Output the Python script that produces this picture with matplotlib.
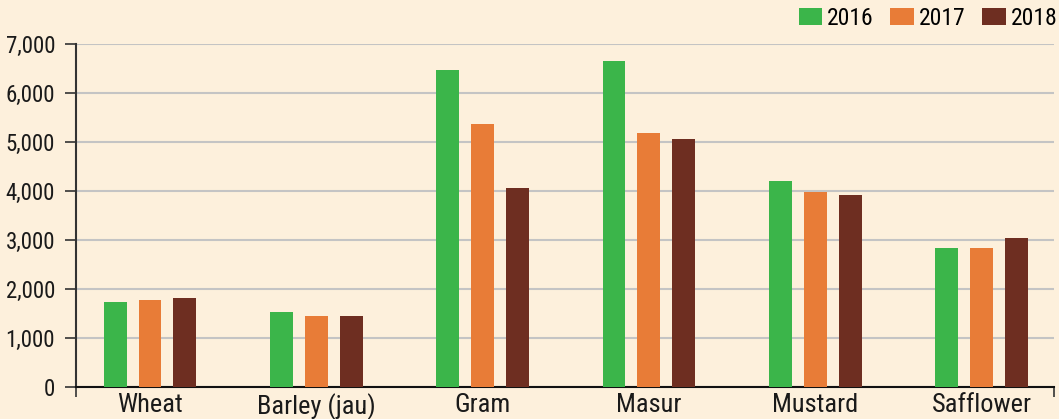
import matplotlib.pyplot as plt
import numpy as np
from matplotlib.ticker import FuncFormatter, FixedLocator

# 作物ごとの値 (2016, 2017, 2018)
crops = ['Wheat', 'Barley (jau)', 'Gram', 'Masur', 'Mustard', 'Safflower']
years = ['2016', '2017', '2018']
val_2016 = [1740, 1535, 6460, 6645, 4200, 2835]
val_2017 = [1780, 1450, 5365, 5180, 3980, 2835]
val_2018 = [1820, 1450, 4060, 5055, 3915, 3040]
colors = ['#3bb54a', '#e87c37', '#6e2e21']

# 細身のフォントを優先 (無ければ次へ)
plt.rcParams['font.family'] = ['Roboto Condensed', 'Archivo Narrow', 'Barlow Semi Condensed',
                               'Roboto', 'DejaVu Sans']
bg = '#fdf0dc'
fs = 16.5

fig = plt.figure(figsize=(10.59, 4.19), dpi=100, facecolor=bg)
ax = fig.add_axes([76 / 1059, 1 - 387.3 / 419, 978 / 1059, (387.3 - 44) / 419])
ax.set_facecolor(bg)

x = np.arange(len(crops))
width = 0.138
step = 0.21
for i, (vals, year) in enumerate(zip([val_2016, val_2017, val_2018], years)):
    ax.bar(x + (i - 1) * step, vals, width, color=colors[i], label=year, zorder=3)

ax.set_xlim(-0.445, 5.436)
ax.set_ylim(0, 7000)
ax.set_yticks(range(0, 7001, 1000))
ax.yaxis.set_major_formatter(FuncFormatter(lambda v, p: f'{int(v):,}'))
ax.grid(axis='y', color='#c4c4c4', linewidth=1.5, zorder=0)
ax.set_axisbelow(True)

ax.set_xticks(x)
ax.set_xticklabels(crops)
ax.xaxis.set_minor_locator(FixedLocator([-0.445, 5.436]))
ax.tick_params(axis='x', which='major', length=0, pad=4, labelsize=19, colors='#1a1a1a')
ax.tick_params(axis='x', which='minor', length=7, width=1.2, direction='out', color='#333333')
ax.tick_params(axis='y', length=8, width=1.2, direction='out', pad=7, labelsize=fs,
               color='#333333', labelcolor='#1a1a1a')

for s in ['top', 'right']:
    ax.spines[s].set_visible(False)
ax.spines['left'].set_color('#333333')
ax.spines['left'].set_linewidth(1.5)
ax.spines['bottom'].set_color('#111111')
ax.spines['bottom'].set_linewidth(1.5)

fig.legend(loc='upper right', bbox_to_anchor=(1058 / 1059, 1 - 7 / 419), ncol=3, frameon=False,
           fontsize=fs + 0.5, handlelength=1.0, handleheight=0.72, handletextpad=0.22,
           columnspacing=0.7, borderpad=0, borderaxespad=0)

fig.savefig('out.png', dpi=100, facecolor=bg)
